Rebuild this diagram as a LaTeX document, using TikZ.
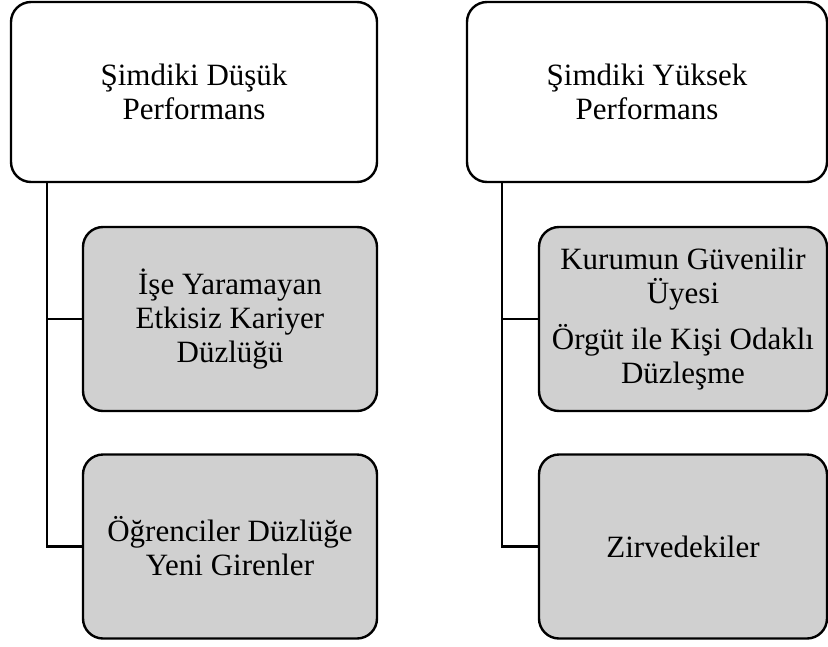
\documentclass[tikz,border=0pt]{standalone}
\usepackage{fontspec}
\setmainfont{Liberation Serif}
\usetikzlibrary{positioning}
\definecolor{boxgray}{RGB}{208,208,208}
\tikzset{
  box/.style={draw, line width=2.4pt, rounded corners=20pt, align=center,
    inner sep=0pt, font=\fontsize{31}{34}\selectfont},
  headbox/.style={box, fill=white, minimum height=180pt},
  itembox/.style={box, fill=boxgray, minimum height=184pt},
  branch/.style={line width=2.6pt}
}
\begin{document}
\begin{tikzpicture}[x=1pt,y=-1pt]
  \useasboundingbox (0,0) rectangle (828,646);
  % left column
  \node[headbox, minimum width=366pt] (lowhead) at (194,92) {Şimdiki Düşük\\Performans};
  \node[itembox, minimum width=294pt] (lowflat) at (230,319) {İşe Yaramayan\\Etkisiz Kariyer\\Düzlüğü};
  \node[itembox, minimum width=294pt] (lownew) at (230,546.5) {Öğrenciler Düzlüğe\\Yeni Girenler};
  % right column
  \node[headbox, minimum width=360pt] (highhead) at (647,92) {Şimdiki Yüksek\\Performans};
  \node[itembox, minimum width=288pt] (highmember) at (683,319) {Kurumun Güvenilir\\Üyesi\\[12pt]Örgüt ile Kişi Odaklı\\Düzleşme};
  \node[itembox, minimum width=288pt] (highpeak) at (683,546.5) {Zirvedekiler};
  \coordinate (lowtrunk) at ([xshift=37pt]lowhead.south west);
  \coordinate (hightrunk) at ([xshift=36pt]highhead.south west);
  \draw[branch] (lowtrunk) |- (lowflat.west);
  \draw[branch] (lowtrunk) |- (lownew.west);
  \draw[branch] (hightrunk) |- (highmember.west);
  \draw[branch] (hightrunk) |- (highpeak.west);
\end{tikzpicture}
\end{document}
